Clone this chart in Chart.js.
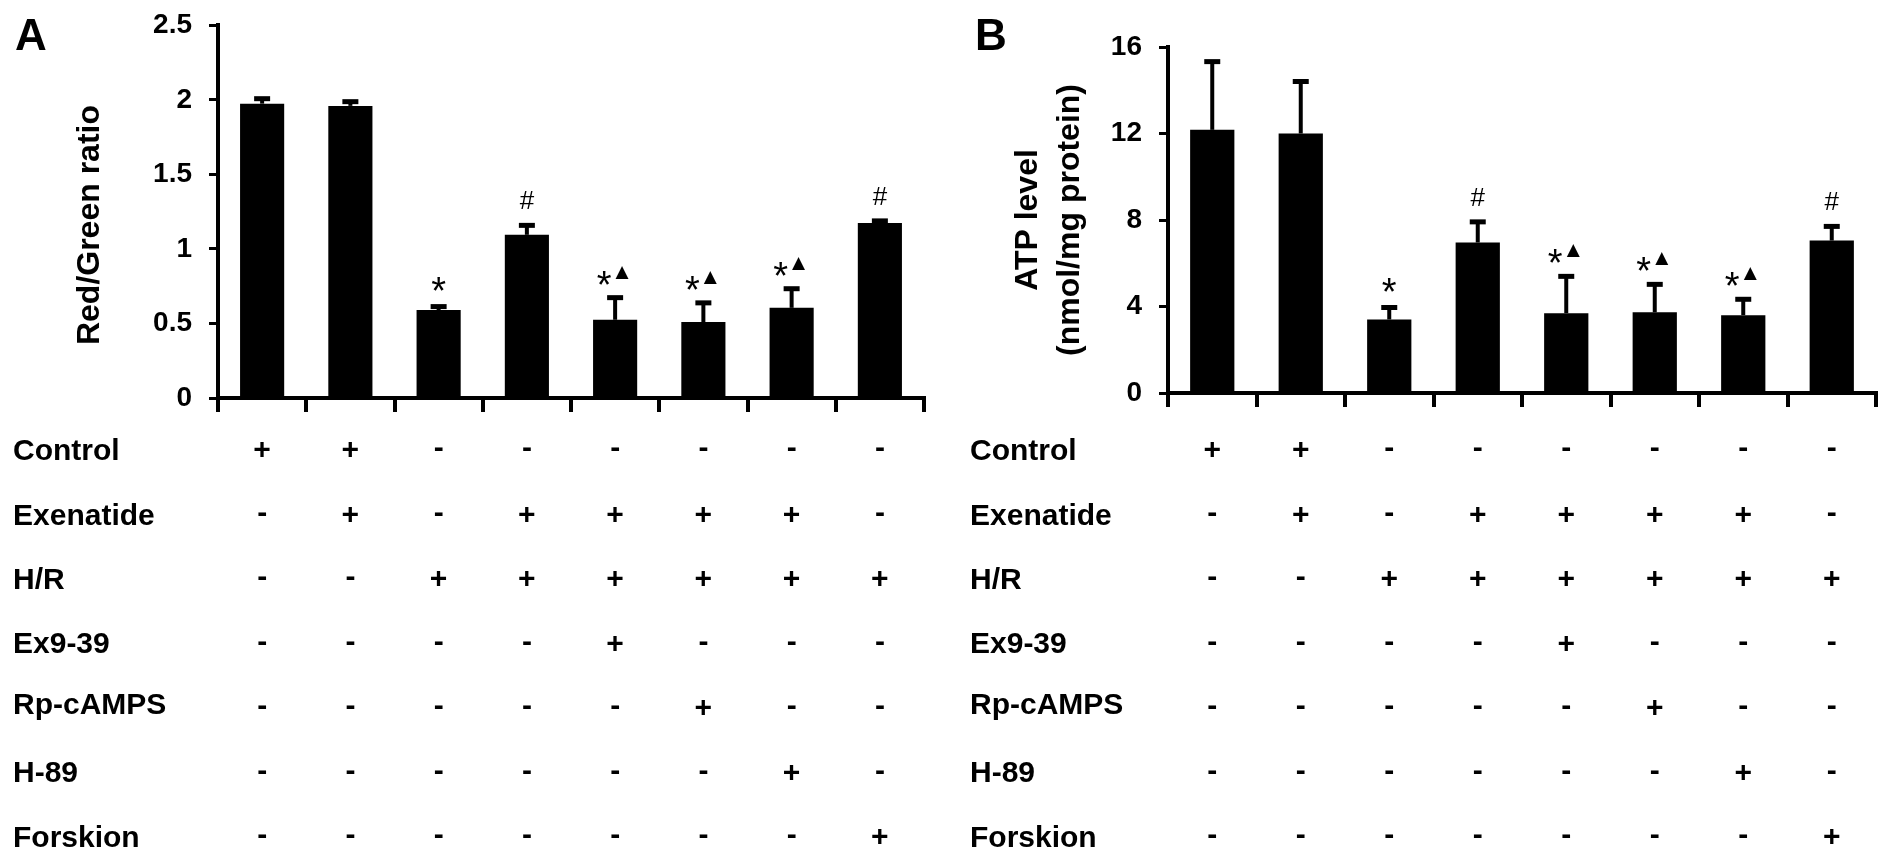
<!DOCTYPE html>
<html>
<head>
<meta charset="utf-8">
<script src="https://cdn.jsdelivr.net/npm/chart.js@4.4.1/dist/chart.umd.min.js"></script>
<style>
  html, body { margin: 0; padding: 0; background: #fff; }
  #wrap { position: relative; width: 1890px; height: 858px; overflow: hidden; }
  .panel { position: absolute; top: 0; width: 945px; height: 858px; }
</style>
</head>
<body>
<div id="wrap">
  <div class="panel" style="left:0"><canvas id="chartA"></canvas></div>
  <div class="panel" style="left:945px"><canvas id="chartB"></canvas></div>
</div>
<script>
// groups (x categories, labels hidden - the +/- table below names them)
const groups = ['Control', 'Exenatide', 'H/R', 'Exenatide+H/R', 'Exenatide+H/R+Ex9-39',
  'Exenatide+H/R+Rp-cAMPS', 'Exenatide+H/R+H-89', 'H/R+Forskion'];

// treatment table rows
const treatments = ['Control', 'Exenatide', 'H/R', 'Ex9-39', 'Rp-cAMPS', 'H-89', 'Forskion'];
const rowControl   = ['+', '+', '-', '-', '-', '-', '-', '-'];
const rowExenatide = ['-', '+', '-', '+', '+', '+', '+', '-'];
const rowHR        = ['-', '-', '+', '+', '+', '+', '+', '+'];
const rowEx939     = ['-', '-', '-', '-', '+', '-', '-', '-'];
const rowRp        = ['-', '-', '-', '-', '-', '+', '-', '-'];
const rowH89       = ['-', '-', '-', '-', '-', '-', '+', '-'];
const rowForskion  = ['-', '-', '-', '-', '-', '-', '-', '+'];

// panel A: red/green ratio
const ratioMean = [1.975, 1.96, 0.59, 1.095, 0.525, 0.51, 0.605, 1.175];
const ratioSD   = [0.04, 0.035, 0.03, 0.07, 0.155, 0.135, 0.135, 0.02];
// panel B: ATP level
const atpMean = [12.17, 12.0, 3.4, 6.96, 3.69, 3.73, 3.6, 7.05];
const atpSD   = [3.2, 2.45, 0.6, 1.0, 1.75, 1.34, 0.78, 0.7];

// significance marks above bars
const marks = ['', '', '*', '#', '*▲', '*▲', '*▲', '#'];

const FONT = "'Liberation Sans', Arial, sans-serif";
Chart.defaults.font.family = FONT;
Chart.defaults.color = '#000';

const tableRows = [rowControl, rowExenatide, rowHR, rowEx939, rowRp, rowH89, rowForskion];

function inkText(ctx, s, x, cy, align) {
  ctx.textAlign = align || 'center';
  ctx.textBaseline = 'alphabetic';
  const m = ctx.measureText(s);
  ctx.fillText(s, x, cy + (m.actualBoundingBoxAscent - m.actualBoundingBoxDescent) / 2);
}

const errBars = {
  id: 'errBars',
  afterDatasetsDraw(chart, args, opts) {
    const ctx = chart.ctx, ys = chart.scales.y;
    const meta = chart.getDatasetMeta(0);
    const vals = chart.data.datasets[0].data;
    ctx.save();
    ctx.strokeStyle = '#000';
    ctx.fillStyle = '#000';
    meta.data.forEach((bar, i) => {
      const x = bar.x;
      const y0 = ys.getPixelForValue(vals[i]);
      const y1 = ys.getPixelForValue(vals[i] + opts.sd[i]);
      ctx.lineWidth = 4;
      ctx.beginPath(); ctx.moveTo(x, y0); ctx.lineTo(x, y1); ctx.stroke();
      ctx.lineWidth = 5;
      ctx.beginPath(); ctx.moveTo(x - 8, y1 + 1); ctx.lineTo(x + 8, y1 + 1); ctx.stroke();
      const m = opts.marks[i];
      if (m === '#') {
        ctx.font = '26px ' + FONT;
        inkText(ctx, '#', x, y1 - 24);
      } else if (m === '*') {
        ctx.font = '38px ' + FONT;
        inkText(ctx, '*', x, y1 - 22);
      } else if (m) {
        ctx.font = '38px ' + FONT;
        inkText(ctx, '*', x - 11, y1 - 19);
        ctx.font = "17px 'DejaVu Sans'";
        inkText(ctx, '▲', x + 7, y1 - 24);
      }
    });
    ctx.restore();
  }
};

const treatTable = {
  id: 'treatTable',
  afterDraw(chart, args, opts) {
    const ctx = chart.ctx, xs = chart.scales.x;
    ctx.save();
    ctx.fillStyle = '#000';
    ctx.font = 'bold 30px ' + FONT;
    tableRows.forEach((row, r) => {
      const cy = 449 + 64.5 * r;
      inkText(ctx, treatments[r], opts.labelX, cy, 'left');
      row.forEach((s, i) => inkText(ctx, s, xs.getPixelForValue(i), cy));
    });
    ctx.font = 'bold 44px ' + FONT;
    inkText(ctx, opts.letter, opts.letterX, 34, 'left');
    ctx.restore();
  }
};

function makeChart(id, mean, sd, yMax, step, title, padL, yWidth, padTop, padRight, xHeight, labelX, letter, letterX) {
  return new Chart(document.getElementById(id), {
    type: 'bar',
    data: {
      labels: groups,
      datasets: [{ data: mean, backgroundColor: '#000', borderWidth: 0, barPercentage: 0.5, categoryPercentage: 1 }]
    },
    options: {
      responsive: true,
      maintainAspectRatio: false,
      animation: false,
      layout: { padding: { left: padL, top: padTop, right: padRight, bottom: 0 } },
      plugins: {
        legend: { display: false },
        tooltip: { enabled: false },
        errBars: { sd: sd, marks: marks },
        treatTable: { labelX: labelX, letter: letter, letterX: letterX }
      },
      scales: {
        x: {
          ticks: { display: false },
          grid: { offset: true, drawOnChartArea: false, tickLength: 14, lineWidth: 4, color: '#000' },
          border: { display: true, color: '#000', width: 4 },
          afterFit: s => { s.height = xHeight; }
        },
        y: {
          min: 0, max: yMax,
          // small lineHeight keeps the label padding from pushing the plot top down
          ticks: { stepSize: step, font: { size: 28, weight: 'bold', lineHeight: 0.6 }, color: '#000', padding: 17,
                   callback: v => String(v) },
          grid: { drawOnChartArea: false, tickLength: 9, lineWidth: 3, color: '#000' },
          border: { display: true, color: '#000', width: 4 },
          title: { display: true, text: title, font: { size: 32, weight: 'bold', lineHeight: 1.32 }, color: '#000', padding: 0 },
          afterFit: s => { s.width = yWidth; }
        }
      }
    },
    plugins: [errBars, treatTable]
  });
}

// trailing spaces push the rotated title a little lower, as in the figure
makeChart('chartA', ratioMean, ratioSD, 2.5, 0.5, 'Red/Green ratio   ', 69, 149, 25, 21, 460, 13, 'A', 15);
makeChart('chartB', atpMean, atpSD, 16, 4, ['ATP level', '(nmol/mg protein)'], 62, 161, 47, 14, 465, 25, 'B', 30);
</script>
</body>
</html>
